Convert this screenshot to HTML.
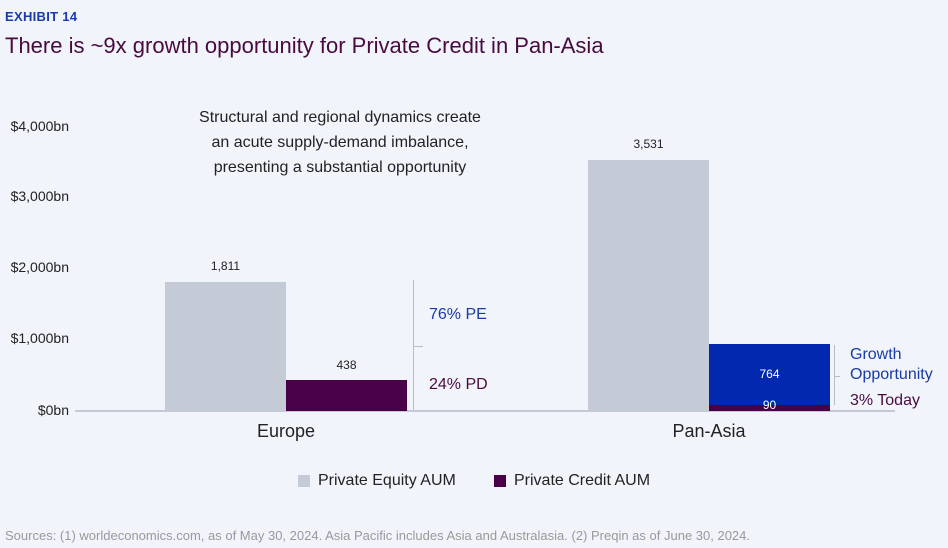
<!DOCTYPE html>
<html><head><style>
body{margin:0;width:948px;height:548px;background:#f1f4fa;font-family:"Liberation Sans",sans-serif;position:relative;overflow:hidden}
div{position:absolute}
.y{left:0;width:69px;text-align:right;font-size:14px;color:#222}
.v{font-size:12px;color:#222;text-align:center;width:121px}
</style></head><body>
<div style="left:5px;top:9px;font-size:13px;font-weight:bold;color:#1a3aa8;letter-spacing:0.3px">EXHIBIT 14</div>
<div style="left:5px;top:33px;font-size:22px;color:#4a0a40">There is ~9x growth opportunity for Private Credit in Pan-Asia</div>
<div class="y" style="top:118px">$4,000bn</div>
<div class="y" style="top:188px">$3,000bn</div>
<div class="y" style="top:259px">$2,000bn</div>
<div class="y" style="top:330px">$1,000bn</div>
<div class="y" style="top:402px">$0bn</div>
<div style="left:170px;top:105px;width:340px;text-align:center;font-size:16px;line-height:25px;color:#222">Structural and regional dynamics create<br>an acute supply-demand imbalance,<br>presenting a substantial opportunity</div>
<div style="left:75px;top:410px;width:820px;height:2px;background:#c4c9d4"></div>
<div style="left:165px;top:282px;width:121px;height:129px;background:#c4cad6"></div>
<div style="left:286px;top:380px;width:121px;height:31px;background:#4a0048"></div>
<div style="left:588px;top:160px;width:121px;height:251px;background:#c4cad6"></div>
<div style="left:709px;top:344px;width:121px;height:61px;background:#0228b0"></div>
<div style="left:709px;top:405px;width:121px;height:6px;background:#4a0048"></div>
<div class="v" style="left:165px;top:259px">1,811</div>
<div class="v" style="left:286px;top:358px">438</div>
<div class="v" style="left:588px;top:137px">3,531</div>
<div class="v" style="left:709px;top:367px;color:#fff">764</div>
<div class="v" style="left:709px;top:398px;color:#fff">90</div>
<div style="left:413px;top:280px;width:1px;height:130px;background:#b8bcc6"></div>
<div style="left:413px;top:346px;width:10px;height:1px;background:#b8bcc6"></div>
<div style="left:429px;top:306px;font-size:16px;color:#1a3aa8">76% PE</div>
<div style="left:429px;top:376px;font-size:16px;color:#4a0a40">24% PD</div>
<div style="left:834px;top:345px;width:1px;height:60px;background:#b8bcc6"></div>
<div style="left:834px;top:376px;width:6px;height:1px;background:#b8bcc6"></div>
<div style="left:850px;top:345px;font-size:16px;line-height:20px;color:#1a3aa8">Growth<br>Opportunity</div>
<div style="left:850px;top:392px;font-size:16px;color:#4a0a40">3% Today</div>
<div style="left:226px;top:421px;width:120px;text-align:center;font-size:18px;color:#222">Europe</div>
<div style="left:649px;top:421px;width:120px;text-align:center;font-size:18px;color:#222">Pan-Asia</div>
<div style="left:298px;top:475px;width:12px;height:12px;background:#c4cad6"></div>
<div style="left:318px;top:472px;font-size:16px;color:#222">Private Equity AUM</div>
<div style="left:494px;top:475px;width:12px;height:12px;background:#4a0048"></div>
<div style="left:514px;top:472px;font-size:16px;color:#222">Private Credit AUM</div>
<div style="left:5px;top:528px;font-size:13px;color:#999">Sources: (1) worldeconomics.com, as of May 30, 2024. Asia Pacific includes Asia and Australasia. (2) Preqin as of June 30, 2024.</div>
</body></html>
